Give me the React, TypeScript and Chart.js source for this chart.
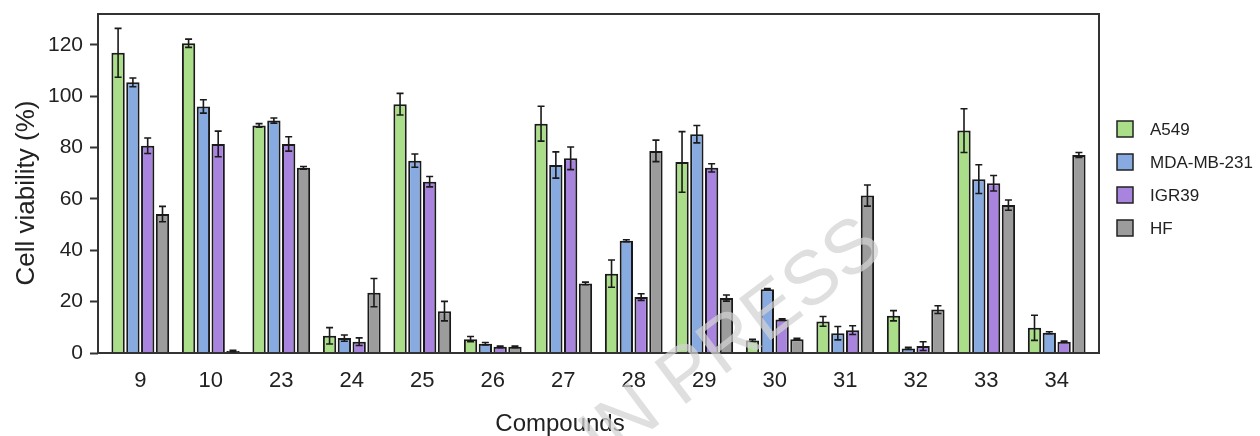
import React, { useEffect, useRef } from 'react';
import { Chart, registerables } from 'chart.js';

Chart.register(...registerables);

const categories = ['9', '10', '23', '24', '25', '26', '27', '28', '29', '30', '31', '32', '33', '34'];
const seriesNames = ['A549', 'MDA-MB-231', 'IGR39', 'HF'];

const a549 = [116.9, 120.6, 88.6, 6.7, 96.9, 5.4, 89.3, 30.9, 74.4, 4.9, 12.3, 14.5, 86.6, 9.8];
const a549Err = [9.5, 1.6, 0.7, 3.2, 4.2, 1.0, 6.8, 5.3, 11.8, 0.4, 1.9, 2.0, 8.5, 4.9];
const mda = [105.4, 96.0, 90.5, 5.8, 74.9, 3.6, 73.2, 43.7, 85.2, 24.8, 7.7, 1.8, 67.7, 7.9];
const mdaErr = [1.7, 2.6, 1.0, 1.2, 2.6, 0.5, 5.1, 0.4, 3.4, 0.3, 2.6, 0.4, 5.6, 0.4];
const igr = [80.7, 81.4, 81.4, 4.4, 66.7, 2.4, 75.8, 21.8, 72.1, 13.0, 8.9, 2.7, 66.1, 4.4];
const igrErr = [3.0, 5.0, 2.8, 1.5, 2.0, 0.3, 4.4, 1.3, 1.6, 0.3, 1.7, 1.7, 3.0, 0.3];
const hf = [54.1, 0.8, 72.1, 23.5, 16.3, 2.4, 27.1, 78.7, 21.4, 5.4, 61.3, 16.9, 57.6, 77.1];
const hfErr = [3.0, 0.3, 0.5, 5.5, 3.8, 0.3, 0.5, 4.2, 1.2, 0.3, 4.1, 1.5, 2.0, 1.0];

const yTicks = [0, 20, 40, 60, 80, 100, 120];
const seriesValues = [a549, mda, igr, hf];
const seriesErrors = [a549Err, mdaErr, igrErr, hfErr];
const seriesColors = ['#abde88', '#87aae1', '#a884de', '#9c9c9c'];

const FONT = '"Liberation Sans", Arial, Helvetica, sans-serif';
const TEXT = '#222222';

const framePlugin = {
  id: 'frame',
  afterDatasetsDraw(chart: any) {
    const { ctx, chartArea: a } = chart;
    ctx.save();
    ctx.strokeStyle = '#333333';
    ctx.lineWidth = 2;
    ctx.strokeRect(a.left, a.top, a.right - a.left, a.bottom - a.top);
    ctx.restore();
  },
};

const errorBarPlugin = {
  id: 'errorBars',
  afterDatasetsDraw(chart: any) {
    const { ctx } = chart;
    const yScale = chart.scales.y;
    ctx.save();
    ctx.strokeStyle = '#1a1a1a';
    ctx.lineWidth = 1.6;
    chart.data.datasets.forEach((ds: any, di: number) => {
      const meta = chart.getDatasetMeta(di);
      meta.data.forEach((bar: any, i: number) => {
        const v = ds.data[i].y;
        const e = ds.errors[i];
        const yTop = yScale.getPixelForValue(v + e);
        const yBot = yScale.getPixelForValue(Math.max(0, v - e));
        const x = bar.x;
        const cap = 3.5;
        ctx.beginPath();
        ctx.moveTo(x, yTop);
        ctx.lineTo(x, yBot);
        ctx.moveTo(x - cap, yTop);
        ctx.lineTo(x + cap, yTop);
        ctx.moveTo(x - cap, yBot);
        ctx.lineTo(x + cap, yBot);
        ctx.stroke();
      });
    });
    ctx.restore();
  },
};

const titlesPlugin = {
  id: 'titles',
  afterDraw(chart: any) {
    const { ctx, chartArea: a } = chart;
    ctx.save();
    ctx.fillStyle = TEXT;
    ctx.font = `24px ${FONT}`;
    ctx.textAlign = 'center';
    ctx.textBaseline = 'alphabetic';
    ctx.fillText('Compounds', a.left + 462, 431);
    ctx.translate(34, 193);
    ctx.rotate(-Math.PI / 2);
    ctx.font = `26px ${FONT}`;
    ctx.textBaseline = 'alphabetic';
    ctx.fillText('Cell viability (%)', 0, 0);
    ctx.restore();
  },
};

const legendPlugin = {
  id: 'customLegend',
  afterDraw(chart: any) {
    const { ctx, chartArea: a } = chart;
    ctx.save();
    chart.data.datasets.forEach((ds: any, i: number) => {
      const cy = 129 + i * 33;
      const bx = a.right + 18;
      const size = 16;
      ctx.fillStyle = ds.backgroundColor;
      ctx.fillRect(bx, cy - size / 2, size, size);
      ctx.strokeStyle = '#222222';
      ctx.lineWidth = 1.5;
      ctx.strokeRect(bx, cy - size / 2, size, size);
      ctx.fillStyle = TEXT;
      ctx.font = `17px ${FONT}`;
      ctx.textAlign = 'left';
      ctx.textBaseline = 'middle';
      ctx.fillText(ds.label, bx + 33, cy + 1);
    });
    ctx.restore();
  },
};

const watermarkPlugin = {
  id: 'watermark',
  afterDraw(chart: any) {
    const { ctx } = chart;
    ctx.save();
    ctx.translate(870, 230);
    ctx.rotate((-37 * Math.PI) / 180);
    ctx.fillStyle = 'rgba(210,210,210,0.72)';
    ctx.font = `76px ${FONT}`;
    ctx.textAlign = 'right';
    ctx.textBaseline = 'alphabetic';
    ctx.fillText('IN PRESS', 0, 28);
    ctx.restore();
  },
};

export default function App() {
  const ref = useRef<HTMLCanvasElement>(null);

  useEffect(() => {
    const canvas = ref.current;
    if (!canvas) return;
    const chart = new Chart(canvas, {
      type: 'bar',
      data: {
        datasets: seriesNames.map((name, si) => ({
          label: name,
          data: seriesValues[si].map((v, i) => ({ x: i, y: v })),
          errors: seriesErrors[si],
          backgroundColor: seriesColors[si],
          borderColor: '#1a1a1a',
          borderWidth: 2,
          categoryPercentage: 0.84,
          barPercentage: 0.9,
        })) as any,
      },
      options: {
        responsive: false,
        animation: false,
        layout: { padding: { left: 0, top: 14, right: 161, bottom: 0 } },
        plugins: {
          legend: { display: false },
          tooltip: { enabled: false },
        },
        scales: {
          x: {
            type: 'linear',
            min: -0.6,
            max: 13.6,
            offset: false,
            afterBuildTicks: (s: any) => {
              s.ticks = categories.map((_, i) => ({ value: i }));
            },
            afterFit: (s: any) => {
              s.height = 83;
              s.paddingLeft = 0;
              s.paddingRight = 0;
            },
            ticks: {
              autoSkip: false,
              maxRotation: 0,
              padding: 15,
              color: TEXT,
              font: { family: FONT, size: 22 },
              callback: (v: any) => categories[v as number] ?? '',
            },
            grid: { display: false, drawTicks: false },
            border: { display: false },
          },
          y: {
            min: 0,
            max: 132,
            afterBuildTicks: (s: any) => {
              s.ticks = yTicks.map((v) => ({ value: v }));
            },
            afterFit: (s: any) => {
              s.width = 98;
              s.paddingTop = 0;
              s.paddingBottom = 0;
            },
            ticks: {
              padding: 7,
              color: TEXT,
              font: { family: FONT, size: 21 },
            },
            grid: {
              drawOnChartArea: false,
              drawTicks: true,
              tickLength: 8,
              tickColor: '#333333',
              tickWidth: 2,
            },
            border: { display: false },
          },
        } as any,
      },
      plugins: [framePlugin, errorBarPlugin, titlesPlugin, legendPlugin, watermarkPlugin],
    });
    return () => chart.destroy();
  }, []);

  return (
    <div style={{ position: 'absolute', left: 0, top: 0, width: 1260, height: 436, background: '#ffffff', overflow: 'hidden' }}>
      <canvas ref={ref} width={1260} height={436} style={{ display: 'block' }} />
    </div>
  );
}
